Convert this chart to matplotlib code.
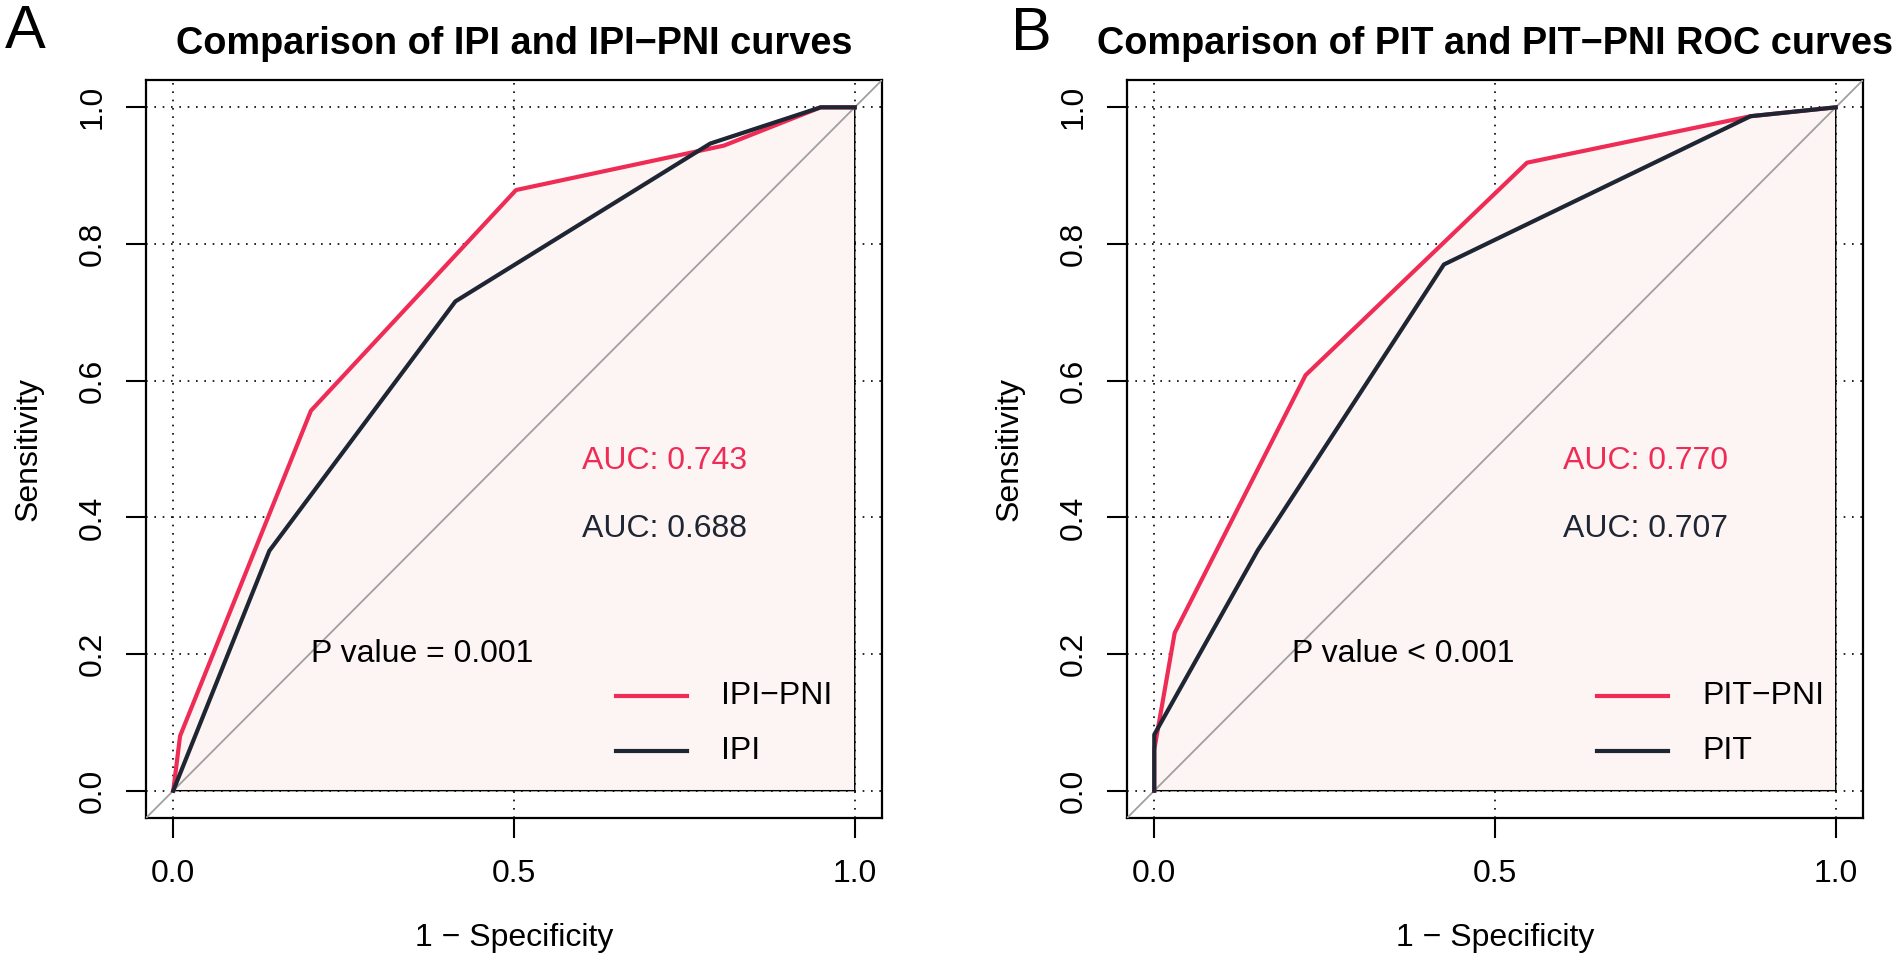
import numpy as np
import matplotlib
matplotlib.use("Agg")
import matplotlib.pyplot as plt

plt.rcParams['font.family'] = ['Liberation Sans', 'DejaVu Sans']

# ---------------------------------------------------------
# datos (1 - especificidad, sensibilidad)
# ---------------------------------------------------------
ipi_pni_fpr = [0.0, 0.01, 0.202, 0.503, 0.808, 0.95, 1.0]
ipi_pni_tpr = [0.0, 0.08, 0.556, 0.879, 0.944, 1.0, 1.0]
ipi_fpr = [0.0, 0.141, 0.414, 0.788, 0.95, 1.0]
ipi_tpr = [0.0, 0.351, 0.716, 0.947, 1.0, 1.0]

pit_pni_fpr = [0.0, 0.0, 0.030, 0.222, 0.547, 0.875, 1.0]
pit_pni_tpr = [0.0, 0.06, 0.231, 0.608, 0.919, 0.987, 1.0]
pit_fpr = [0.0, 0.0, 0.152, 0.425, 0.875, 1.0]
pit_tpr = [0.0, 0.082, 0.352, 0.770, 0.987, 1.0]

auc_a = ["AUC: 0.743", "AUC: 0.688"]
auc_b = ["AUC: 0.770", "AUC: 0.707"]
pval_a = "P value = 0.001"
pval_b = "P value < 0.001"
titulos = ["Comparison of IPI and IPI\u2212PNI curves",
           "Comparison of PIT and PIT\u2212PNI ROC curves"]
leyendas_a = ["IPI\u2212PNI", "IPI"]
leyendas_b = ["PIT\u2212PNI", "PIT"]

ROJO = "#EE2C56"
NEGRO = "#1E2633"
RELLENO = "#FDF4F4"

W, H = 1902, 961
fig = plt.figure(figsize=(W / 100, H / 100), dpi=100)

caja_alto = 738
caja_ancho = 736
FS = 23


def panel(left_px, fpr1, tpr1, fpr2, tpr2, aucs, pval, titulo, leyendas):
    ax = fig.add_axes([left_px / W, 1 - 818 / H, caja_ancho / W, caja_alto / H])
    ax.set_xlim(-0.04, 1.04)
    ax.set_ylim(-0.04, 1.04)

    # grilla punteada
    for gx in [0.0, 0.5, 1.0]:
        ax.axvline(gx, color="black", lw=1.2, ls=(0, (1, 4)), zorder=1)
    for gy in np.arange(0, 1.01, 0.2):
        ax.axhline(gy, color="black", lw=1.2, ls=(0, (1, 4)), zorder=1)

    # poligono del AUC
    px = list(fpr1) + [1.0, 0.0]
    py = list(tpr1) + [0.0, 0.0]
    ax.fill(px, py, facecolor=RELLENO, edgecolor="black", lw=1.0, zorder=2)

    # diagonal
    ax.plot([-0.04, 1.04], [-0.04, 1.04], color="#A0A0A0", lw=1.3, zorder=3)

    ax.plot(fpr1, tpr1, color=ROJO, lw=3.0, zorder=4)
    ax.plot(fpr2, tpr2, color=NEGRO, lw=3.0, zorder=5)

    ax.text(0.6, 0.483, aucs[0], color=ROJO, fontsize=FS, va="center", ha="left")
    ax.text(0.6, 0.383, aucs[1], color=NEGRO, fontsize=FS, va="center", ha="left")
    ax.text(0.202, 0.2, pval, color="black", fontsize=FS, va="center", ha="left")

    # leyenda manual sin marco
    for i, (lab, col) in enumerate(zip(leyendas, [ROJO, NEGRO])):
        yy = [0.139, 0.058][i]
        ax.plot([0.65, 0.754], [yy, yy], color=col, lw=3.0, zorder=6)
        ax.text(0.804, yy, lab, fontsize=FS, va="center", ha="left", zorder=6)

    ax.set_xticks([0.0, 0.5, 1.0])
    ax.set_xticklabels(["0.0", "0.5", "1.0"])
    ax.set_yticks(np.arange(0, 1.01, 0.2))
    ax.set_yticklabels([f"{v:.1f}" for v in np.arange(0, 1.01, 0.2)], rotation=90, va="center")
    ax.tick_params(axis="both", labelsize=FS, length=14.5, width=1.5)
    ax.tick_params(axis="x", pad=15)
    ax.tick_params(axis="y", pad=13)
    for s in ax.spines.values():
        s.set_linewidth(1.6)

    ax.set_xlabel("1 \u2212 Specificity", fontsize=FS)
    ax.xaxis.set_label_coords(0.5, -(938 - 818) / caja_alto)
    ax.xaxis.label.set_va("center")
    ax.set_ylabel("Sensitivity", fontsize=FS)
    ax.yaxis.set_label_coords(-117 / caja_ancho, 0.5)
    ax.yaxis.label.set_va("center")

    ax.set_title(titulo, fontsize=27.3, fontweight="bold", pad=19)
    return ax


panel(146, ipi_pni_fpr, ipi_pni_tpr, ipi_fpr, ipi_tpr, auc_a, pval_a,
      titulos[0], leyendas_a)
panel(1127, pit_pni_fpr, pit_pni_tpr, pit_fpr, pit_tpr, auc_b, pval_b,
      titulos[1], leyendas_b)

fig.text(25 / W, 1 - 32 / H, "A", fontsize=44, ha="center", va="center")
fig.text(1031 / W, 1 - 34 / H, "B", fontsize=44, ha="center", va="center")

fig.savefig("out.png", dpi=100)
